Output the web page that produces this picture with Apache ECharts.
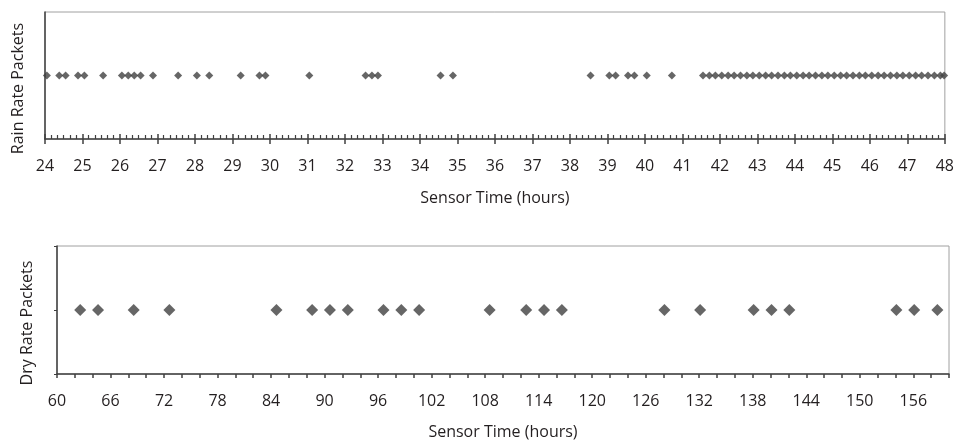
<!DOCTYPE html>
<html>
<head>
<meta charset="utf-8">
<script src="https://cdn.jsdelivr.net/npm/echarts@6/dist/echarts.min.js"></script>
<style>
  html, body { margin: 0; padding: 0; background: #fff; }
  #chart { width: 957px; height: 443px; }
</style>
</head>
<body>
<div id="chart"></div>
<script>
// 数据：传感器时间（小时）
const rainTimes = [
  24.05, 24.38, 24.55, 24.88, 25.05, 25.55, 26.05, 26.22, 26.38, 26.55, 26.88,
  27.55, 28.05, 28.38, 29.22, 29.72, 29.88, 31.05, 32.55, 32.72, 32.88, 34.55,
  34.88, 38.55, 39.05, 39.22, 39.55, 39.72, 40.05, 40.72,
  41.55, 41.72, 41.88, 42.05, 42.22, 42.38, 42.55, 42.72, 42.88, 43.05, 43.22,
  43.38, 43.55, 43.72, 43.88, 44.05, 44.22, 44.38, 44.55, 44.72, 44.88, 45.05,
  45.22, 45.38, 45.55, 45.72, 45.88, 46.05, 46.22, 46.38, 46.55, 46.72, 46.88,
  47.05, 47.22, 47.38, 47.55, 47.72, 47.88, 47.98
];
const dryTimes = [
  62.6, 64.6, 68.6, 72.6, 84.6, 88.6, 90.6, 92.6, 96.6, 98.6, 100.6, 108.5,
  112.6, 114.6, 116.6, 128.1, 132.1, 138.1, 140.1, 142.1, 154.1, 156.1, 158.7
];
const packetLevel = 1;

const rainRange = [24, 48];
const dryRange = [60, 160];

const font = '"Open Sans", sans-serif';
const fontSize = 16;
const dark = '#404040';
const textColor = '#231f20';

const chart = echarts.init(document.getElementById('chart'));

const yCommon = {
  type: 'value', min: 0, max: 2, interval: 1,
  axisLabel: { show: false },
  splitLine: { show: false },
  axisLine: { show: true, lineStyle: { color: dark, width: 1.5 } },
  nameLocation: 'middle', nameRotate: 90, nameGap: 19,
  nameTextStyle: { fontFamily: font, fontSize: fontSize, color: textColor, padding: [0, 26, 0, 0] }
};

chart.setOption({
  animation: false,
  grid: [
    { left: 45, right: 10, top: 12, height: 127, show: true, borderColor: '#a0a0a0', borderWidth: 1 },
    { left: 57, right: 8, top: 246, height: 128, show: true, borderColor: '#a0a0a0', borderWidth: 1 }
  ],
  xAxis: [
    {
      gridIndex: 0, type: 'value', position: 'bottom',
      min: rainRange[0], max: rainRange[1], interval: 1,
      name: 'Sensor Time (hours)', nameLocation: 'middle', nameGap: 51,
      nameTextStyle: { fontFamily: font, fontSize: fontSize, color: textColor },
      axisLine: { lineStyle: { color: dark, width: 1.5 } },
      axisTick: { inside: false, length: 5, lineStyle: { color: dark, width: 1.5 } },
      axisLabel: { margin: 19, fontFamily: font, fontSize: fontSize, color: textColor },
      splitLine: { show: false }
    },
    {
      // 内侧短刻度（10 分钟）
      gridIndex: 0, type: 'value', position: 'bottom',
      min: rainRange[0], max: rainRange[1], interval: 1,
      axisLine: { show: false },
      axisTick: { inside: true, length: 5, lineStyle: { color: dark, width: 1.5 } },
      minorTick: { show: true, splitNumber: 6, length: 4, lineStyle: { color: dark, width: 1.2 } },
      axisLabel: { show: false },
      splitLine: { show: false }
    },
    {
      gridIndex: 1, type: 'value', position: 'bottom',
      min: dryRange[0], max: dryRange[1], interval: 2,
      name: 'Sensor Time (hours)', nameLocation: 'middle', nameGap: 50,
      nameTextStyle: { fontFamily: font, fontSize: fontSize, color: textColor },
      axisLine: { lineStyle: { color: dark, width: 1.5 } },
      axisTick: { inside: false, length: 4, lineStyle: { color: dark, width: 1.5 } },
      axisLabel: {
        margin: 19, fontFamily: font, fontSize: fontSize, color: textColor,
        formatter: v => ((v - dryRange[0]) % 6 === 0 ? String(v) : '')
      },
      splitLine: { show: false }
    }
  ],
  yAxis: [
    Object.assign({}, yCommon, { gridIndex: 0, name: 'Rain Rate Packets', axisTick: { show: false } }),
    Object.assign({}, yCommon, {
      gridIndex: 1, name: 'Dry Rate Packets', nameGap: 22,
      axisTick: { show: true, length: 3, lineStyle: { color: dark } }
    })
  ],
  series: [
    {
      type: 'scatter', xAxisIndex: 0, yAxisIndex: 0,
      symbol: 'diamond', symbolSize: 8,
      itemStyle: { color: dark },
      data: rainTimes.map(t => [t, packetLevel])
    },
    {
      type: 'scatter', xAxisIndex: 2, yAxisIndex: 1,
      symbol: 'diamond', symbolSize: 12,
      itemStyle: { color: dark },
      data: dryTimes.map(t => [t, packetLevel])
    }
  ]
});
</script>
</body>
</html>
